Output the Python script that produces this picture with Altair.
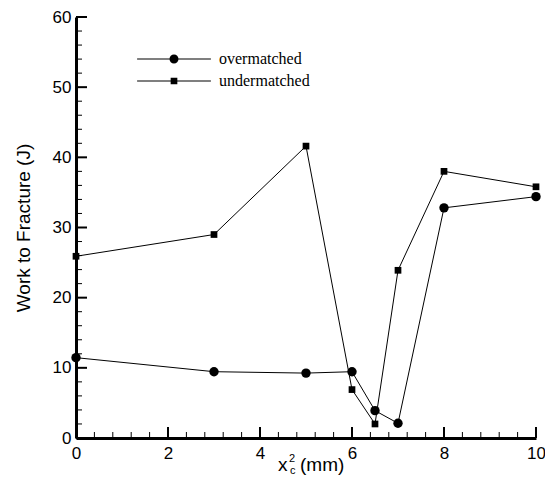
import altair as alt
import pandas as pd

x_vals = [0, 3, 5, 6, 6.5, 7, 8, 10]
over_vals = [11.45, 9.45, 9.25, 9.45, 3.9, 2.1, 32.8, 34.4]
under_vals = [25.9, 29.0, 41.6, 6.9, 2.0, 23.9, 38.0, 35.8]
series_names = ["overmatched", "undermatched"]

x_major = [0, 2, 4, 6, 8, 10]
x_minor = [0.4, 0.8, 1.2, 1.6, 2.4, 2.8, 3.2, 3.6, 4.4, 4.8, 5.2, 5.6,
           6.4, 6.8, 7.2, 7.6, 8.4, 8.8, 9.2, 9.6]
y_major = [0, 10, 20, 30, 40, 50, 60]
y_minor = [2, 4, 6, 8, 12, 14, 16, 18, 22, 24, 26, 28, 32, 34, 36, 38,
           42, 44, 46, 48, 52, 54, 56, 58]

rows = []
for xv, ov in zip(x_vals, over_vals):
    rows.append({"x": xv, "y": ov, "series": series_names[0]})
for xv, uv in zip(x_vals, under_vals):
    rows.append({"x": xv, "y": uv, "series": series_names[1]})
df = pd.DataFrame(rows)

W, H = 460, 421
FONT = "Liberation Sans"
SERIF = "Liberation Serif"

xs = alt.Scale(domain=[0, 10], nice=False, zero=False)
ys = alt.Scale(domain=[0, 60], nice=False, zero=False)

x_axis = alt.Axis(values=x_major, orient="bottom", ticks=False, domain=True,
                  domainWidth=3, domainColor="black", grid=False,
                  labelFont=FONT, labelFontSize=17, labelColor="black",
                  labelPadding=7, labelFlush=False, title=None)
y_axis = alt.Axis(values=y_major, orient="left", ticks=False, domain=True,
                  domainWidth=3, domainColor="black", grid=False,
                  labelFont=FONT, labelFontSize=17, labelColor="black",
                  labelPadding=5, title="Work to Fracture (J)",
                  titleFont=FONT, titleFontSize=19, titleFontWeight="normal",
                  titleColor="black", titlePadding=19)

lines = alt.Chart(df).mark_line(color="black", strokeWidth=1).encode(
    x=alt.X("x:Q", scale=xs, axis=x_axis),
    y=alt.Y("y:Q", scale=ys, axis=y_axis),
    detail="series:N",
)

points = alt.Chart(df).mark_point(filled=True, color="black", opacity=1).encode(
    x=alt.X("x:Q", scale=xs),
    y=alt.Y("y:Q", scale=ys),
    shape=alt.Shape("series:N", scale=alt.Scale(domain=series_names,
                                                 range=["circle", "square"]),
                    legend=None),
    size=alt.Size("series:N", scale=alt.Scale(domain=series_names, range=[88, 45]),
                  legend=None),
)

# inward tick marks, positioned by the shared scales from the tick arrays
def xticks(vals, length, width):
    return alt.Chart(pd.DataFrame({"v": vals})).mark_rule(
        color="#000000", strokeWidth=width).encode(
        x=alt.X("v:Q", scale=xs), y=alt.value(H), y2=alt.value(H - length))

def yticks(vals, length, width):
    return alt.Chart(pd.DataFrame({"w": vals})).mark_rule(
        color="#000000", strokeWidth=width).encode(
        y=alt.Y("w:Q", scale=ys), x=alt.value(0), x2=alt.value(length))

LINE = "M-8.2,-0.12H8.2V0.12H-8.2Z"
CIRC = "M-1,0A1,1 0 1,1 1,0A1,1 0 1,1 -1,0Z"
SQR = "M-0.74,-0.74H0.74V0.74H-0.74Z"

legend_layer = alt.Chart(df).transform_filter("datum.x < -100").mark_point(
    filled=True, color="black", opacity=1, size=81).encode(
    x=alt.X("x:Q", scale=xs),
    y=alt.Y("y:Q", scale=ys),
    shape=alt.Shape("series:N",
                    scale=alt.Scale(domain=series_names,
                                    range=[LINE + " " + CIRC, LINE + " " + SQR]),
                    legend=alt.Legend(title=None, orient="none", legendX=90,
                                      legendY=34, symbolSize=81,
                                      symbolFillColor="black", symbolStrokeWidth=0,
                                      symbolOpacity=1,
                                      labelFont=SERIF, labelFontSize=16,
                                      labelColor="black", labelOffset=37,
                                      rowPadding=6)),
)

def txt(label, x, y, size):
    return alt.Chart(pd.DataFrame({"t": [label]})).mark_text(
        font=FONT, fontSize=size, align="left", baseline="alphabetic",
        color="black").encode(text="t:N", x=alt.value(x), y=alt.value(y))

title_x = txt("x", 202, 454, 19)
title_sup = txt("2", 213, 445, 11)
title_sub = txt("c", 214, 457, 11)
title_mm = txt("(mm)", 224, 454, 19)

chart = alt.layer(
    xticks(x_major, 11, 2), xticks(x_minor, 6, 1),
    yticks(y_major, 11, 2), yticks(y_minor, 6, 1),
    lines, points, legend_layer,
    title_x, title_sup, title_sub, title_mm,
).resolve_scale(
    shape="independent", size="independent"
).properties(
    width=W, height=H,
    autosize=alt.AutoSizeParams(type="none"),
    padding={"left": 68, "top": 9, "right": 9, "bottom": 37},
    background="white",
).configure_view(stroke=None)

chart.save("out.html", embed_options={"renderer": "svg", "actions": False})
